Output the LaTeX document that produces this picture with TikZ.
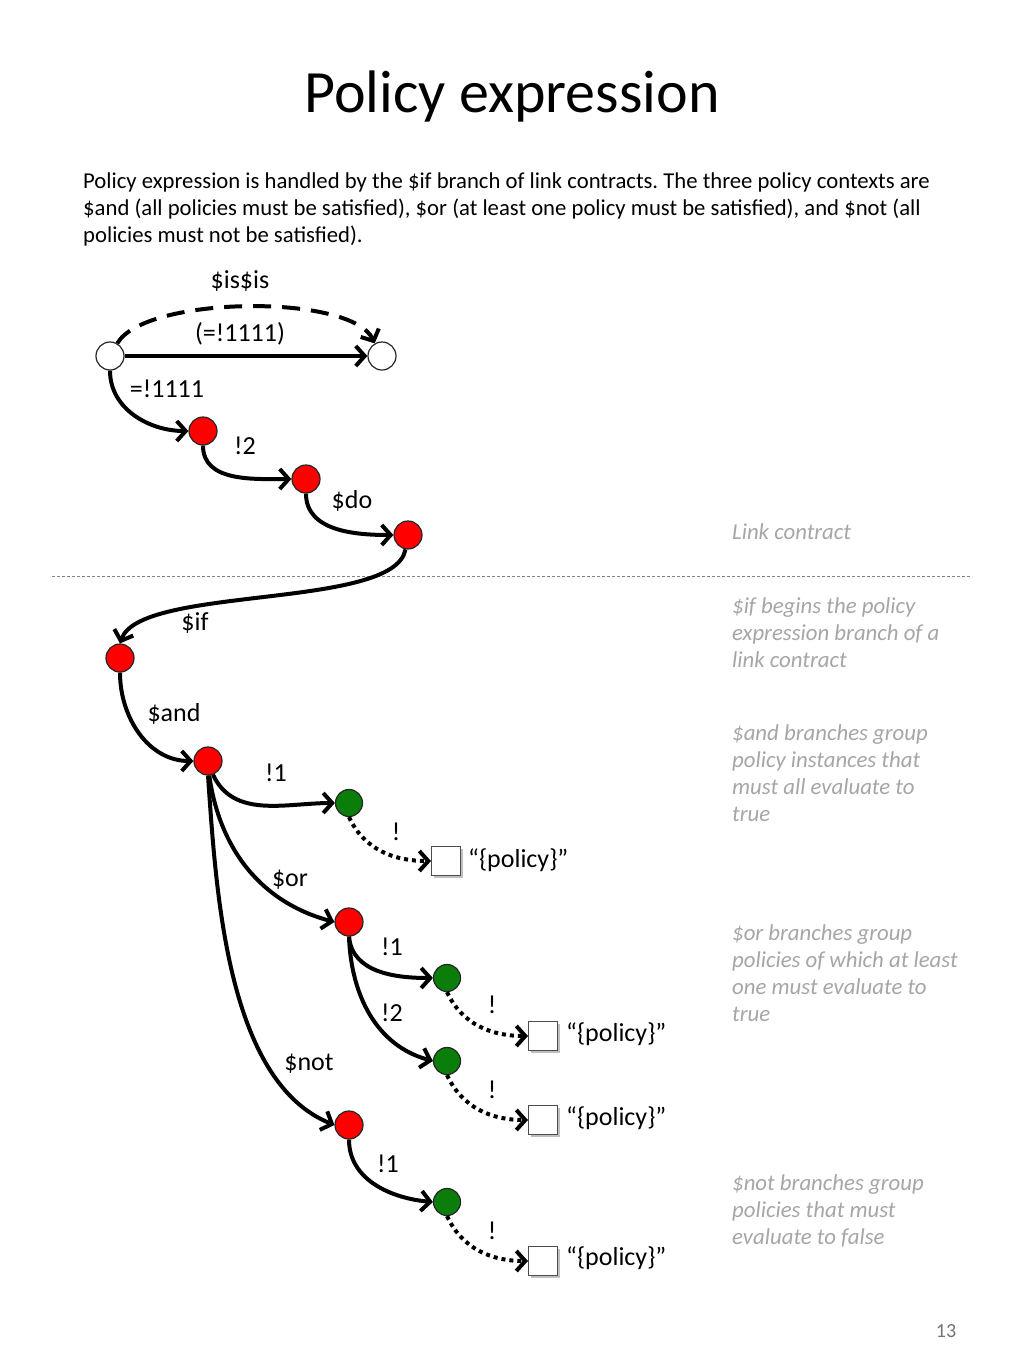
\documentclass[tikz,border=0pt]{standalone}
\usepackage{fontspec}
\setmainfont{Carlito}
\usetikzlibrary{arrows.meta,shadows}
\definecolor{notegray}{HTML}{A6A6A6}
\definecolor{dgreen}{HTML}{0B7D0B}
\definecolor{rred}{HTML}{FF0000}
\tikzset{
  every node/.style={inner sep=0pt},
  wc/.style={circle, draw=black!85, line width=1.2pt, fill=white, minimum size=28pt},
  rc/.style={circle, draw=black!85, line width=1.2pt, fill=rred, minimum size=28pt},
  gc/.style={circle, draw=black!85, line width=1.2pt, fill=dgreen, minimum size=27pt},
  pbox/.style={rectangle, draw=black!70, line width=1pt, fill=white, minimum size=29pt,
    drop shadow={shadow xshift=2pt, shadow yshift=-2pt, opacity=.25, fill=black}},
  edge/.style={line width=4pt, -{Straight Barb[length=9pt,width=20pt]}},
  dotedge/.style={edge, dash pattern=on 4pt off 4pt},
  lab/.style={font=\fontsize{26}{31}\selectfont},
  ptext/.style={font=\fontsize{26}{31}\selectfont, anchor=west},
  para/.style={font=\fontsize{22.7}{27}\selectfont, anchor=base west},
  note/.style={font=\fontsize{22.8}{27}\selectfont\itshape, text=notegray, anchor=base west},
}
\begin{document}
\frenchspacing
\begin{tikzpicture}[x=1pt,y=1pt]
\useasboundingbox[fill=white] (0,0) rectangle (1024,-1365);

% title and paragraph
\node[font=\fontsize{60}{72}\selectfont] (title) at (512,-97) {Policy expression};
\node[para] (p1) at (83,-188) {Policy expression is handled by the \$if branch of link contracts. The three policy contexts are};
\node[para] (p2) at (83,-215) {\$and (all policies must be satisfied), \$or (at least one policy must be satisfied), and \$not (all};
\node[para] (p3) at (83,-242) {policies must not be satisfied).};

% divider
\coordinate (dl) at (52,-576);
\coordinate (dr) at (972,-576);
\draw[notegray!80!black, line width=0.8pt, dash pattern=on 3pt off 2pt] (dl) -- (dr);

% nodes
\node[wc] (A) at (110,-356) {};
\node[wc] (B) at (382,-356) {};
\node[rc] (R1) at (203,-431) {};
\node[rc] (R2) at (306,-479) {};
\node[rc] (R3) at (408,-535) {};
\node[rc] (R4) at (120,-658) {};
\node[rc] (R5) at (208,-761) {};
\node[gc] (G1) at (349,-803) {};
\node[pbox] (P1) at (446,-861) {};
\node[rc] (R6) at (349,-922) {};
\node[gc] (G2) at (447,-978) {};
\node[pbox] (P2) at (543,-1036) {};
\node[gc] (G3) at (447,-1061) {};
\node[pbox] (P3) at (543,-1120) {};
\node[rc] (R7) at (349,-1125) {};
\node[gc] (G4) at (447,-1202) {};
\node[pbox] (P4) at (543,-1261) {};

% edges
\draw[edge] (A.east) -- (B.west);
\draw[edge, dash pattern=on 18pt off 11pt] (A.60) to[out=60,in=115,looseness=0.55] (B.120);
\draw[edge] (A.south) to[out=-90,in=180] (R1.west);
\draw[edge] (R1.south) to[out=-90,in=180] (R2.west);
\draw[edge] (R2.south) to[out=-90,in=180] (R3.west);
\draw[edge] (R3.-100) .. controls (395,-610) and (140,-585) .. (R4.north);
\draw[edge] (R4.south) to[out=-90,in=180] (R5.west);
\draw[edge] (R5.-70) to[out=-65,in=180] (G1.west);
\draw[edge] (R5.-85) to[out=-82,in=165] (R6.west);
\draw[edge] (R5.south) to[out=-86,in=158,looseness=0.8] (R7.west);
\draw[dotedge] (G1.south) to[out=-65,in=180] (P1.west);
\draw[edge] (R6.south) to[out=-85,in=180] (G2.west);
\draw[edge] (R6.south) to[out=-88,in=165] (G3.west);
\draw[dotedge] (G2.south) to[out=-65,in=180] (P2.west);
\draw[dotedge] (G3.south) to[out=-65,in=180] (P3.west);
\draw[edge] (R7.south) to[out=-90,in=175] (G4.west);
\draw[dotedge] (G4.south) to[out=-65,in=180] (P4.west);

% edge labels
\node[lab] (l1) at (240,-281) {\$is\$is};
\node[lab] (l2) at (240,-334) {(=!1111)};
\node[lab] (l3) at (167,-389) {=!1111};
\node[lab] (l4) at (245,-446) {!2};
\node[lab] (l5) at (352,-501) {\$do};
\node[lab] (l6) at (195,-623) {\$if};
\node[lab] (l7) at (174,-714) {\$and};
\node[lab] (l8) at (276,-773) {!1};
\node[lab] (l9) at (396,-832) {!};
\node[lab] (l10) at (290,-880) {\$or};
\node[lab] (l11) at (392,-947) {!1};
\node[lab] (l12) at (392,-1013) {!2};
\node[lab] (l13) at (492,-1005) {!};
\node[lab] (l14) at (309,-1064) {\$not};
\node[lab] (l15) at (492,-1090) {!};
\node[lab] (l16) at (388,-1164) {!1};
\node[lab] (l17) at (492,-1231) {!};

\node[ptext] (t1) at (468,-860) {“\{policy\}”};
\node[ptext] (t2) at (566,-1034) {“\{policy\}”};
\node[ptext] (t3) at (566,-1118) {“\{policy\}”};
\node[ptext] (t4) at (566,-1258) {“\{policy\}”};

% side notes
\node[note] (n0) at (732,-539) {Link contract};
\node[note] (n1a) at (732,-613) {\$if begins the policy};
\node[note] (n1b) at (732,-640) {expression branch of a};
\node[note] (n1c) at (732,-667) {link contract};
\node[note] (n2a) at (732,-740) {\$and branches group};
\node[note] (n2b) at (732,-767) {policy instances that};
\node[note] (n2c) at (732,-794) {must all evaluate to};
\node[note] (n2d) at (732,-821) {true};
\node[note] (n3a) at (732,-940) {\$or branches group};
\node[note] (n3b) at (732,-967) {policies of which at least};
\node[note] (n3c) at (732,-994) {one must evaluate to};
\node[note] (n3d) at (732,-1021) {true};
\node[note] (n4a) at (732,-1190) {\$not branches group};
\node[note] (n4b) at (732,-1217) {policies that must};
\node[note] (n4c) at (732,-1244) {evaluate to false};

\node[font=\fontsize{20}{24}\selectfont, text=black!55] (pg) at (946,-1331) {13};
\end{tikzpicture}
\end{document}
